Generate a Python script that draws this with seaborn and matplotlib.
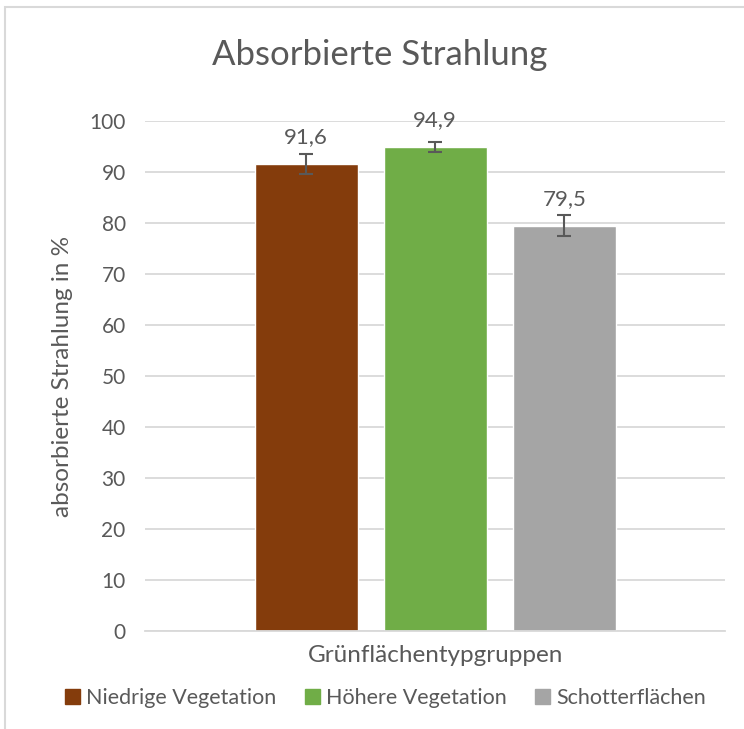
import pandas as pd
import matplotlib.pyplot as plt
import seaborn as sns
from matplotlib.patches import Rectangle

# Daten
gruppen = ['Niedrige Vegetation', 'Höhere Vegetation', 'Schotterflächen']
werte = [91.6, 94.9, 79.5]
fehler = [1.9, 0.9, 2.0]
farben = ['#843C0C', '#70AD47', '#A5A5A5']
yticks = [0, 10, 20, 30, 40, 50, 60, 70, 80, 90, 100]

text_farbe = '#595959'
grid_farbe = '#D9D9D9'

sns.set_style('white')
plt.rcParams['font.family'] = ['Lato', 'DejaVu Sans']

df = pd.DataFrame({'Kategorie': [''] * len(gruppen), 'Gruppe': gruppen, 'Wert': werte})

fig = plt.figure(figsize=(7.44, 7.29), dpi=100)
ax = fig.add_axes([0.195, 0.134, 0.78, 0.70])

sns.barplot(data=df, x='Kategorie', y='Wert', hue='Gruppe', hue_order=gruppen,
            palette=farben, width=0.667, gap=0.2, errorbar=None, saturation=1,
            ax=ax, legend=False)

# Fehlerbalken und Beschriftungen
for cont, w, e in zip(ax.containers, werte, fehler):
    bar = cont.patches[0]
    xc = bar.get_x() + bar.get_width() / 2
    ax.errorbar([xc], [w], yerr=[e], fmt='none', ecolor=text_farbe,
                elinewidth=1.5, capsize=5, capthick=1.5, zorder=4)
    ax.bar_label(cont, labels=[f'{w:.1f}'.replace('.', ',')], padding=12,
                 fontsize=16, color=text_farbe)

ax.set_ylim(0, 100)
ax.set_xlim(-0.5, 0.5)
ax.set_yticks(yticks)
ax.tick_params(axis='y', labelsize=15, labelcolor=text_farbe, length=0, pad=14)
ax.tick_params(axis='x', length=0)
ax.set_xticklabels([])
ax.yaxis.grid(True, color=grid_farbe, linewidth=1.3)
ax.set_axisbelow(True)
for s in ['top', 'right', 'left']:
    ax.spines[s].set_visible(False)
ax.spines['bottom'].set_color(grid_farbe)
ax.spines['bottom'].set_linewidth(1.3)

ax.set_ylabel('absorbierte Strahlung in %', fontsize=17.5, color=text_farbe, labelpad=12)
ax.set_xlabel('Grünflächentypgruppen', fontsize=17.5, color=text_farbe, labelpad=6)
fig.text(0.511, 0.924, 'Absorbierte Strahlung', ha='center', va='center',
         fontsize=25, color=text_farbe)

handles = [Rectangle((0, 0), 1, 1, color=c) for c in farben]
fig.legend(handles, gruppen, loc='center', bbox_to_anchor=(0.518, 0.042), ncol=3,
           frameon=False, fontsize=15.5, labelcolor=text_farbe, handlelength=0.7,
           handleheight=0.7, handletextpad=0.3, columnspacing=1.3)

# Rahmen
fig.add_artist(Rectangle((0.007, -0.1), 1.1, 1.09, transform=fig.transFigure,
                         fill=False, edgecolor=grid_farbe, linewidth=1.5))

fig.savefig('out.png', dpi=100)
